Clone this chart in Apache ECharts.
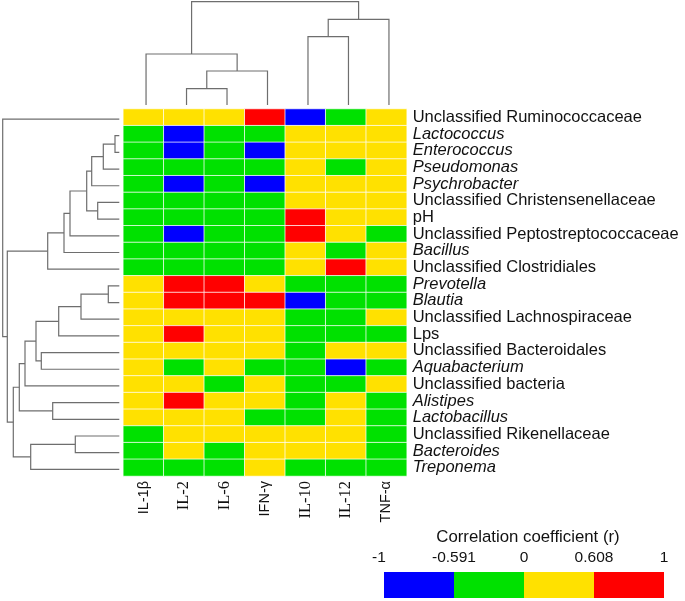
<!DOCTYPE html>
<html><head><meta charset="utf-8">
<script src="https://cdn.jsdelivr.net/npm/echarts@6/dist/echarts.min.js"></script>
<style>html,body{margin:0;padding:0;background:#fff}#c{width:685px;height:601px}</style>
</head><body><div id="c"></div>
<script>
// ---------- data ----------
const columns = ['IL-1β','IL-2','IL-6','IFN-γ','IL-10','IL-12','TNF-α'];
const serifColumns = ['IL-2','IL-6','IL-10','IL-12'];
const rows = ['Unclassified Ruminococcaceae','Lactococcus','Enterococcus','Pseudomonas','Psychrobacter',
  'Unclassified Christensenellaceae','pH','Unclassified Peptostreptococcaceae','Bacillus','Unclassified Clostridiales',
  'Prevotella','Blautia','Unclassified Lachnospiraceae','Lps','Unclassified Bacteroidales','Aquabacterium',
  'Unclassified bacteria','Alistipes','Lactobacillus','Unclassified Rikenellaceae','Bacteroides','Treponema'];
const italicRows = ['Lactococcus','Enterococcus','Pseudomonas','Psychrobacter','Bacillus','Prevotella','Blautia',
  'Aquabacterium','Alistipes','Lactobacillus','Bacteroides','Treponema'];
const corr = [
 [ 0.32, 0.28, 0.25, 0.71,-0.68,-0.22, 0.30],
 [-0.41,-0.66,-0.38,-0.45, 0.35, 0.22, 0.27],
 [-0.44,-0.64,-0.40,-0.62, 0.33, 0.21, 0.25],
 [-0.39,-0.52,-0.35,-0.50, 0.30,-0.12, 0.24],
 [-0.42,-0.63,-0.37,-0.61, 0.34, 0.20, 0.26],
 [-0.36,-0.48,-0.33,-0.44, 0.41, 0.18, 0.22],
 [-0.35,-0.45,-0.30,-0.40, 0.64, 0.26, 0.20],
 [-0.40,-0.60,-0.36,-0.47, 0.66, 0.24,-0.15],
 [-0.30,-0.38,-0.28,-0.33, 0.29,-0.19, 0.18],
 [-0.26,-0.34,-0.24,-0.29, 0.38, 0.65, 0.21],
 [ 0.45, 0.69, 0.67, 0.52,-0.41,-0.33,-0.29],
 [ 0.48, 0.72, 0.70, 0.66,-0.62,-0.36,-0.31],
 [ 0.36, 0.50, 0.47, 0.42,-0.35,-0.27, 0.14],
 [ 0.39, 0.63, 0.44, 0.40,-0.38,-0.25,-0.20],
 [ 0.31, 0.42, 0.38, 0.35,-0.30, 0.12, 0.16],
 [ 0.28,-0.20, 0.33,-0.18,-0.34,-0.61,-0.22],
 [ 0.25, 0.36,-0.14, 0.30,-0.28,-0.17, 0.19],
 [ 0.34, 0.62, 0.40, 0.37,-0.32, 0.15,-0.21],
 [ 0.27, 0.33, 0.29,-0.16,-0.26, 0.13,-0.24],
 [-0.22, 0.31, 0.27, 0.24, 0.19, 0.17,-0.28],
 [-0.25, 0.29,-0.12, 0.26, 0.21, 0.14,-0.30],
 [-0.31,-0.18,-0.21, 0.23,-0.27,-0.19,-0.33]
];
// hierarchical clustering (hclust-style merge: negative = leaf (1-based), positive = earlier merge)
const colMerge = [[-2,-3],[1,-4],[-1,2],[-5,-6],[4,-7],[3,5]];
const colHeight = [0.163,0.340,0.510,0.683,0.857,1.033];
const rowMerge = [[-2,-3],[1,-4],[2,-5],[-6,-7],[3,4],[5,-8],[6,-9],[7,-10],
  [-11,-12],[9,-13],[10,-14],[-15,-16],[11,12],[13,-17],[-18,-19],[14,15],
  [-20,-21],[17,-22],[16,18],[8,19],[-1,20]];
const rowHeight = [0.043,0.160,0.276,0.216,0.326,0.493,0.553,0.716,
  0.110,0.383,0.606,0.780,0.833,0.943,0.666,1.000,
  0.440,0.886,1.060,1.120,1.166];
// legend
const breaks = [-1,-0.591,0,0.608,1];
const breakLabels = ['-1','-0.591','0','0.608','1'];
const pieceColors = ['#0000FF','#00E100','#FFE100','#FF0000'];
const legendTitle = 'Correlation coefficient (r)';

// ---------- helpers ----------
function dendroSegments(merge, height){
  const pos = [], segs = [];
  const get = (k) => k < 0 ? [-k-1, 0] : [pos[k-1], height[k-1]];
  merge.forEach((m, i) => {
    const a = get(m[0]), b = get(m[1]);
    pos[i] = (a[0] + b[0]) / 2;
    segs.push([a[0], a[1], b[0], b[1], height[i]]);
  });
  return segs;
}
function dendroRender(horizontal){
  return function(params, api){
    const pl = api.value(0), hl = api.value(1), pr = api.value(2), hr = api.value(3), h = api.value(4);
    const c = horizontal ? (p, hh) => api.coord([hh, p]) : (p, hh) => api.coord([p, hh]);
    return {
      type: 'polyline',
      shape: { points: [c(pl, hl), c(pl, h), c(pr, h), c(pr, hr)] },
      style: { stroke: '#6e6e6e', lineWidth: 1.2, fill: null }
    };
  };
}

const heatData = [];
corr.forEach((r, ri) => r.forEach((v, ci) => heatData.push([ci, ri, v])));

const FONT = '"Liberation Sans", Arial, sans-serif';
const SERIF = '"Liberation Serif", "Times New Roman", serif';

// layout
const HM = { left: 123.3, top: 109, width: 283.4, height: 367 };
const BAR = { left: 384, top: 572, w: 70, h: 26 };

const legendGraphics = [];
pieceColors.forEach((col, i) => {
  legendGraphics.push({ type: 'rect', left: BAR.left + i*BAR.w, top: BAR.top,
    shape: { width: BAR.w, height: BAR.h }, style: { fill: col } });
});
breakLabels.forEach((t, i) => {
  legendGraphics.push({ type: 'text', x: BAR.left + i*BAR.w + (i===0 ? -5 : 0), y: 558,
    style: { text: t, font: '15.5px ' + FONT, fill: '#111', align: 'center', verticalAlign: 'middle' } });
});
legendGraphics.push({ type: 'text', x: 528, y: 537,
  style: { text: legendTitle, font: '16.8px ' + FONT, fill: '#111', align: 'center', verticalAlign: 'middle' } });

const chart = echarts.init(document.getElementById('c'), null, { renderer: 'canvas' });
chart.setOption({
  animation: false,
  backgroundColor: '#fff',
  grid: [
    { left: HM.left, top: HM.top, width: HM.width, height: HM.height },
    { left: HM.left + 2.5, top: 1.7, width: HM.width, height: 103.3 },
    { left: 2.7, top: HM.top + 1.7, width: 116.6, height: HM.height }
  ],
  xAxis: [
    { type: 'category', data: columns, gridIndex: 0, position: 'bottom',
      axisLine: { show: false }, axisTick: { show: false }, splitLine: { show: false },
      axisLabel: { interval: 0, rotate: 90, margin: 5, color: '#111',
        formatter: v => serifColumns.includes(v) ? '{s|' + v + '}' : '{a|' + v + '}',
        rich: { s: { fontFamily: SERIF, fontSize: 16.5, color: '#111' },
                a: { fontFamily: FONT, fontSize: 14.5, color: '#111' } } } },
    { type: 'value', gridIndex: 1, min: -0.5, max: columns.length - 0.5, show: false },
    { type: 'value', gridIndex: 2, min: 0, max: 1.166, inverse: true, show: false }
  ],
  yAxis: [
    { type: 'category', data: rows, gridIndex: 0, inverse: true, position: 'right',
      axisLine: { show: false }, axisTick: { show: false }, splitLine: { show: false },
      axisLabel: { interval: 0, hideOverlap: false, margin: 6, color: '#111',
        formatter: v => italicRows.includes(v) ? '{i|' + v + '}' : '{n|' + v + '}',
        rich: { i: { fontFamily: FONT, fontSize: 16.5, fontStyle: 'italic', color: '#111', lineHeight: 16 },
                n: { fontFamily: FONT, fontSize: 16.5, color: '#111', lineHeight: 16 } } } },
    { type: 'value', gridIndex: 1, min: 0, max: 1.033, show: false },
    { type: 'value', gridIndex: 2, min: -0.5, max: rows.length - 0.5, inverse: true, show: false }
  ],
  visualMap: {
    type: 'piecewise', show: false, seriesIndex: 0, dimension: 2,
    pieces: [
      { gte: breaks[0], lt: breaks[1], color: pieceColors[0] },
      { gte: breaks[1], lt: breaks[2], color: pieceColors[1] },
      { gte: breaks[2], lt: breaks[3], color: pieceColors[2] },
      { gte: breaks[3], lte: breaks[4], color: pieceColors[3] }
    ]
  },
  series: [
    { type: 'heatmap', xAxisIndex: 0, yAxisIndex: 0, data: heatData,
      itemStyle: { borderColor: 'rgba(255,255,255,0.75)', borderWidth: 1 },
      emphasis: { disabled: true } },
    { type: 'custom', xAxisIndex: 1, yAxisIndex: 1, renderItem: dendroRender(false),
      data: dendroSegments(colMerge, colHeight), silent: true },
    { type: 'custom', xAxisIndex: 2, yAxisIndex: 2, renderItem: dendroRender(true),
      data: dendroSegments(rowMerge, rowHeight), silent: true }
  ],
  graphic: legendGraphics
});
</script>
</body></html>
